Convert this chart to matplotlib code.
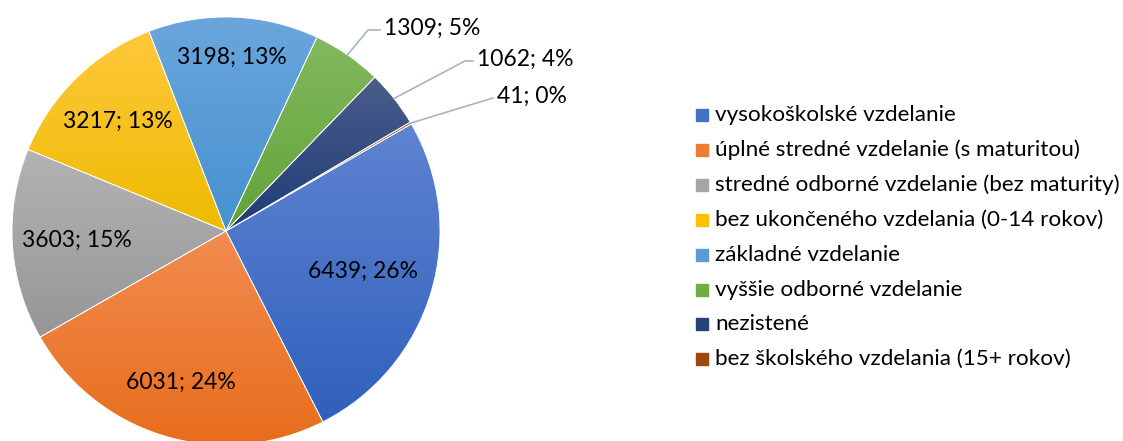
import matplotlib
matplotlib.use("Agg")
import matplotlib.pyplot as plt
import numpy as np
from matplotlib.colors import LinearSegmentedColormap

categories = [
    "vysokoškolské vzdelanie",
    "úplné stredné vzdelanie (s maturitou)",
    "stredné odborné vzdelanie (bez maturity)",
    "bez ukončeného vzdelania (0-14 rokov)",
    "základné vzdelanie",
    "vyššie odborné vzdelanie",
    "nezistené",
    "bez školského vzdelania (15+ rokov)",
]
values = [6439, 6031, 3603, 3217, 3198, 1309, 1062, 41]
percents = [26, 24, 15, 13, 13, 5, 4, 0]

# gradient colours per slice (top, bottom)
top_colors = ["#5F84D2", "#F28C50", "#B3B3B3", "#FFC83C", "#6AA6DC", "#82B95E", "#4A5D8A", "#B0592A"]
bottom_colors = ["#2F60BC", "#E86D1C", "#969696", "#EDBB00", "#4790D0", "#62A33A", "#1F3C78", "#8E3F0A"]
legend_colors = ["#4472C4", "#ED7D31", "#A5A5A5", "#FFC000", "#5B9BD5", "#70AD47", "#264478", "#9E480E"]

W, H = 1123, 441
plt.rcParams["font.family"] = ["Lato", "DejaVu Sans"]

fig = plt.figure(figsize=(W / 100, H / 100), dpi=100)
ax = fig.add_axes([0, 0, 1, 1])

cx, cy, r = 226, H - 231, 214
wedges, _ = ax.pie(values, startangle=30, counterclock=False, center=(cx, cy),
                   radius=r, colors=legend_colors, frame=True,
                   wedgeprops=dict(linewidth=0.6, edgecolor="white"))
ax.set_xlim(0, W)
ax.set_ylim(0, H)
ax.set_aspect("equal")
ax.axis("off")

# vertical gradient inside each slice
grad = np.linspace(0, 1, 256).reshape(-1, 1)
for w, ct, cb in zip(wedges, top_colors, bottom_colors):
    bb = w.get_path().get_extents(w.get_transform() - ax.transData)
    cmap = LinearSegmentedColormap.from_list("g", [cb, ct])
    im = ax.imshow(grad, cmap=cmap, extent=[bb.x0, bb.x1, bb.y0, bb.y1],
                   origin="lower", aspect="auto", zorder=1.5)
    im.set_clip_path(w)
    w.set_facecolor("none")
    w.set_zorder(2)
ax.set_xlim(0, W)
ax.set_ylim(0, H)

label_dist = [0.67, 0.74, 0.70, 0.72, 0.81]
fs = 16.5
for i, w in enumerate(wedges):
    mid = np.deg2rad((w.theta1 + w.theta2) / 2)
    txt = f"{values[i]}; {percents[i]}%"
    if i < len(label_dist):
        d = label_dist[i] * r
        ax.text(cx + d * np.cos(mid), cy + d * np.sin(mid), txt, ha="center", va="center",
                fontsize=fs, color="#000000", zorder=5)
    else:
        ex, ey = cx + r * np.cos(mid), cy + r * np.sin(mid)
        ends = {5: (368, 411, 384), 6: (465, 380, 477), 7: (493, 343, 497)}
        kx, ky, tx = ends[i]
        ax.plot([ex, kx, tx - 4], [ey, ky, ky], color="#A6B5C8", lw=1.2, zorder=4)
        ax.text(tx, ky + 2, txt, ha="left", va="center", fontsize=fs, color="#000000", zorder=5)

# legend
ly0, dy = H - 115, 34.9
for i, (cat, c) in enumerate(zip(categories, legend_colors)):
    y = ly0 - i * dy
    ax.add_patch(plt.Rectangle((696, y - 6), 12, 12, color=c, zorder=5))
    ax.text(715, y, cat, ha="left", va="center", fontsize=16.2, color="#000000", zorder=5)

fig.savefig("out.png", dpi=100)
